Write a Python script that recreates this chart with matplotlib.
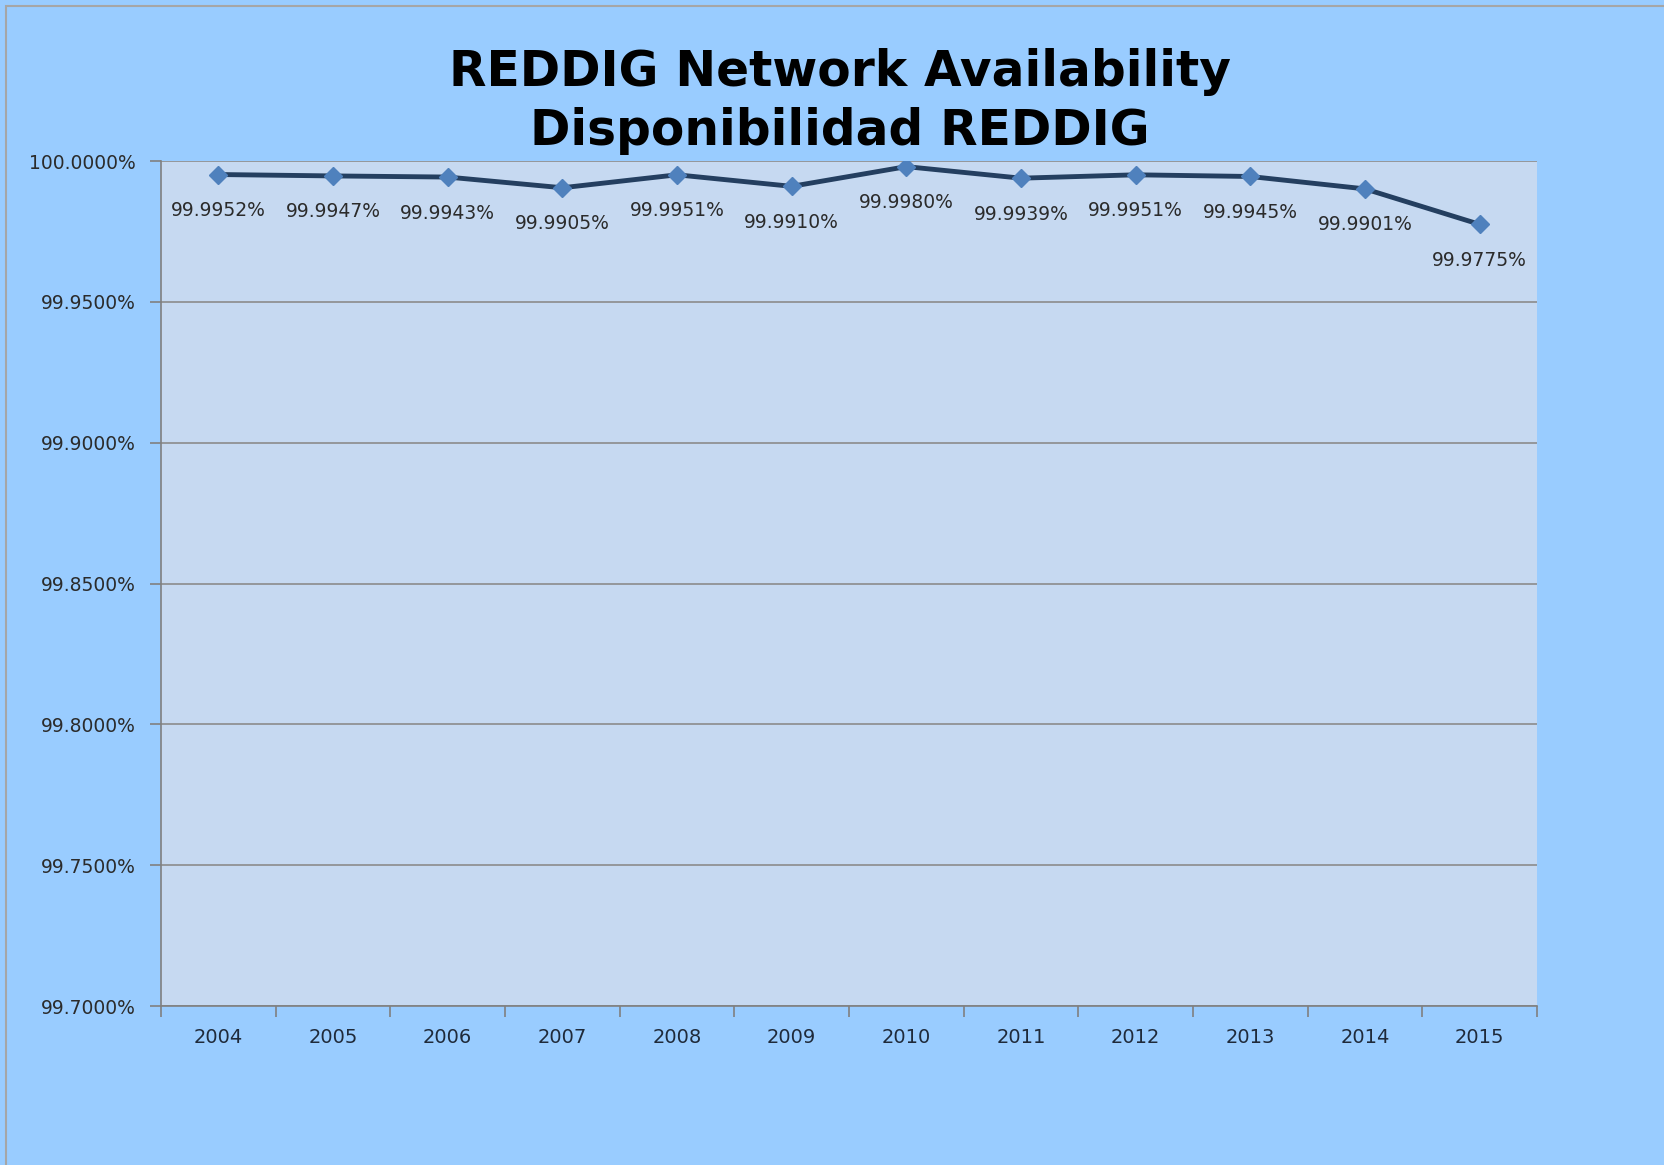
import matplotlib
matplotlib.use("Agg")
import matplotlib.pyplot as plt
from matplotlib.patches import Rectangle
import numpy as np

years = ["2004", "2005", "2006", "2007", "2008", "2009",
         "2010", "2011", "2012", "2013", "2014", "2015"]
availability = [99.9952, 99.9947, 99.9943, 99.9905, 99.9951, 99.9910,
                99.9980, 99.9939, 99.9951, 99.9945, 99.9901, 99.9775]
y_ticks = [99.70, 99.75, 99.80, 99.85, 99.90, 99.95, 100.00]

W, H = 1665, 1165
fig = plt.figure(figsize=(W / 100, H / 100), dpi=100)
fig.patch.set_facecolor("#99CCFF")

# outer frame (left/top edges visible only)
fig.patches.append(Rectangle((6 / W, -0.05), 1.2, 1 - 6 / H + 0.05,
                             transform=fig.transFigure, fill=False,
                             edgecolor="#A6A6A6", linewidth=1.5))

left, right, top, bottom = 161, 1537, 161, 1006
ax = fig.add_axes([left / W, 1 - bottom / H, (right - left) / W, (bottom - top) / H])
ax.set_facecolor("#C6D9F1")

x = np.arange(len(years))
ax.plot(x, availability, color="#243F60", linewidth=3.5, zorder=3)
ax.plot(x, availability, linestyle="none", marker="D", markersize=9,
        color="#4F81BD", zorder=4)

for xi, v in zip(x, availability):
    ax.annotate(f"{v:.4f}%", (xi, v), xytext=(0, -36), textcoords="offset pixels",
                ha="center", va="center", fontsize=13.5, color="#2B2B2B")

ax.set_xlim(-0.5, len(years) - 0.5)
ax.set_ylim(99.70, 100.00)
ax.set_yticks(y_ticks)
ax.set_yticklabels([f"{t:.4f}%" for t in y_ticks], fontsize=13.5, color="#2B2B2B")
ax.yaxis.grid(True, color="#8C8C8C", linewidth=1.2)
ax.set_axisbelow(True)

ax.set_xticks(x)
ax.set_xticklabels(years, fontsize=14, color="#1F2A3A")
ax.set_xticks(np.arange(-0.5, len(years)), minor=True)
ax.tick_params(axis="x", which="major", length=0, pad=16)
ax.tick_params(axis="x", which="minor", length=8, color="#808080", width=1.2)
ax.tick_params(axis="y", length=8, color="#808080", width=1.2, pad=10)

for s in ["top", "right"]:
    ax.spines[s].set_visible(False)
for s in ["left", "bottom"]:
    ax.spines[s].set_color("#808080")
    ax.spines[s].set_linewidth(1.2)

fig.text(840 / W, 1 - 72 / H, "REDDIG Network Availability", ha="center", va="center",
         fontsize=35, fontweight="bold", color="black")
fig.text(840 / W, 1 - 131 / H, "Disponibilidad REDDIG", ha="center", va="center",
         fontsize=35, fontweight="bold", color="black")

fig.savefig("out.png", dpi=100, facecolor=fig.get_facecolor())
